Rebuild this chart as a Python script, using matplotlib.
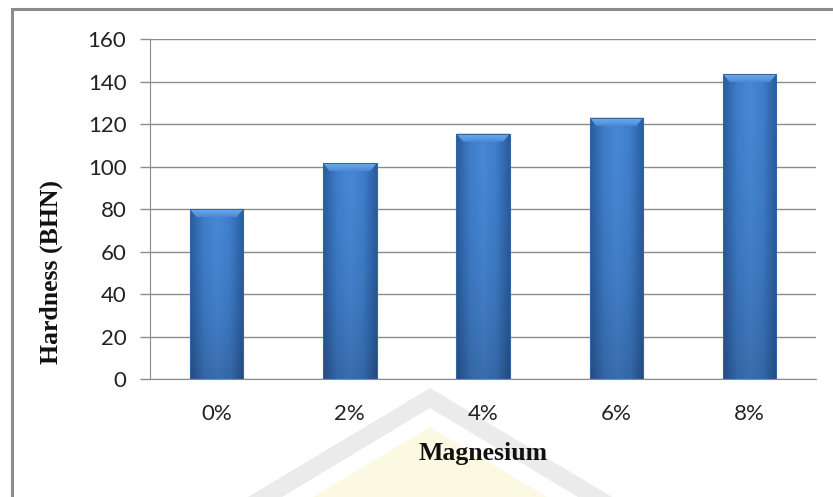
import numpy as np
import matplotlib
matplotlib.use('Agg')
import matplotlib.pyplot as plt
from matplotlib.patches import Rectangle, Polygon
from matplotlib.colors import LinearSegmentedColormap

categories = ['0%', '2%', '4%', '6%', '8%']
hardness = [80, 101.5, 115.5, 123, 143.5]
yticks = [0, 20, 40, 60, 80, 100, 120, 140, 160]

fig = plt.figure(figsize=(8.33, 4.97), dpi=100)
ax = fig.add_axes([0.180, 0.237, 0.800, 0.6845])

# outer chart frame (only left and top visible in the crop)
fig.patches.append(Rectangle((12 / 833, -0.05), 1.2, 1 - 9 / 497 + 0.05,
                             transform=fig.transFigure, fill=False,
                             edgecolor='#8c8c8c', lw=2.2, zorder=0))


# faint watermark behind the axis title (pixel coords -> figure fraction)
def tri(apex_y, dx):
    cx, cy, half = 430 / 833, 1 - apex_y / 497, dx / 833
    return [[cx - half, 0], [cx, cy], [cx + half, 0]]


outer = tri(388, 182)
inner = tri(408, 148)
wm_gray = Polygon(outer + inner[::-1], closed=True, transform=fig.transFigure,
                  facecolor='#ebebeb', edgecolor='none', zorder=-1)
wm_yel = Polygon(tri(427, 117), closed=True, transform=fig.transFigure,
                 facecolor='#fcf9e2', edgecolor='none', zorder=-1)
fig.patches.extend([wm_gray, wm_yel])

x = np.arange(len(categories))
width = 0.4

cmap = LinearSegmentedColormap.from_list(
    'bar', ['#2a5c9e', '#3e7cc8', '#4787d4', '#3f7dc9', '#2a5c9e'])
grad = np.linspace(0, 1, 64).reshape(1, -1)
vshade = np.linspace(0, 1, 64).reshape(-1, 1)
shade_rgba = np.dstack([np.zeros((64, 1))] * 3 + [0.18 * vshade ** 2])
bevel_cmap = LinearSegmentedColormap.from_list('bev', ['#4a8ad6', '#74b0f0'])

for xi, h in zip(x, hardness):
    left = xi - width / 2
    rect = Rectangle((left, 0), width, h, facecolor='none',
                     edgecolor='#3565a3', lw=0.8, zorder=3)
    ax.add_patch(rect)
    im = ax.imshow(grad, cmap=cmap, aspect='auto', zorder=2,
                   extent=[left, left + width, 0, h], interpolation='bicubic')
    im.set_clip_path(rect)
    im2 = ax.imshow(shade_rgba, aspect='auto', zorder=2.1, origin='upper',
                    extent=[left, left + width, 0, h])
    im2.set_clip_path(rect)
    # top bevel
    bh = 3.8
    bw = 0.05
    bev = Polygon([[left, h], [left + width, h],
                   [left + width - bw, h - bh], [left + bw, h - bh]],
                  closed=True, facecolor='none', edgecolor='none', zorder=2.5)
    ax.add_patch(bev)
    im3 = ax.imshow(np.linspace(0, 1, 16).reshape(-1, 1), cmap=bevel_cmap,
                    aspect='auto', origin='lower', zorder=2.5,
                    extent=[left, left + width, h - bh, h])
    im3.set_clip_path(bev)

ax.set_xlim(-0.5, len(categories) - 0.5)
ax.set_ylim(0, 160)
ax.set_xticks(x)
ax.set_xticklabels(categories)
ax.set_yticks(yticks)
ax.grid(axis='y', color='#8c8c8c', lw=1)
ax.set_axisbelow(True)
for s in ['top', 'right']:
    ax.spines[s].set_visible(False)
ax.spines['left'].set_color('#8c8c8c')
ax.spines['bottom'].set_color('#8c8c8c')
ax.tick_params(axis='x', length=0, pad=18, labelsize=16, colors='#222222')
ax.tick_params(axis='y', length=7, width=1, color='#8c8c8c', pad=10,
               labelsize=16, labelcolor='#222222')
for lab in ax.get_xticklabels() + ax.get_yticklabels():
    lab.set_family(['Lato', 'DejaVu Sans'])

ax.set_xlabel('Magnesium', family='Liberation Serif', fontweight='bold',
              fontsize=18.5, color='#111111')
ax.xaxis.set_label_coords(0.5, -0.185)
ax.set_ylabel('Hardness (BHN)', family='Liberation Serif', fontweight='bold',
              fontsize=18.5, color='#111111')
ax.yaxis.set_label_coords(-0.13, 0.315)

fig.savefig('out.png', dpi=100)
